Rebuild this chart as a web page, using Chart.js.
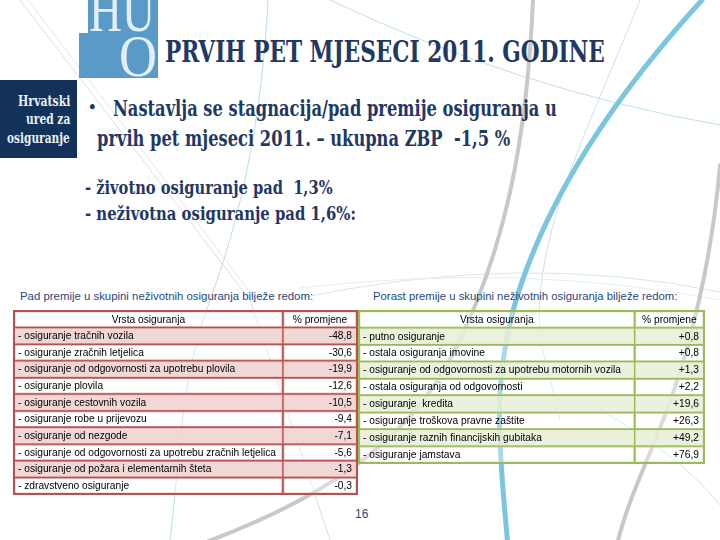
<!DOCTYPE html>
<html>
<head>
<meta charset="utf-8">
<script src="https://cdn.jsdelivr.net/npm/chart.js@4.4.1/dist/chart.umd.min.js"></script>
<style>
  body { margin: 0; }
  #slajd { position: relative; width: 720px; height: 540px; overflow: hidden; background: #fff; }
  #pozadina { position: absolute; left: 0; top: 0; }
  .txt { position: absolute; white-space: nowrap; line-height: 1; transform-origin: 0 50%; }
  .naslov { font-family: "DejaVu Serif Condensed", "DejaVu Serif", serif; font-weight: bold; color: #1f3864; }
  .opis { font-family: "Liberation Sans", Arial, sans-serif; color: #1f497d; }
  #ured { position: absolute; left: 0; top: 80px; width: 77px; height: 78px; background: #12325a; }
  .ured { font-family: "DejaVu Serif Condensed", "DejaVu Serif", serif; font-weight: bold; color: #e9eef5; font-size: 14px; transform-origin: 100% 50%; }
  canvas { position: absolute; }
</style>
</head>
<body>
<div id="slajd">
  <svg id="pozadina" width="720" height="540" viewBox="0 0 720 540">
    <g fill="none" stroke-linecap="round">
      <path d="M20,0 L250,300 L330,540" stroke="#d6d6d6" stroke-width="0.8"/>
      <path d="M28,0 L256,300" stroke="#e0e0e0" stroke-width="0.8"/>
      <path d="M268,0 C262,120 240,220 210,300 S180,460 170,540" stroke="#a9d6e6" stroke-width="0.8"/>
      <path d="M330,0 Q520,90 720,125" stroke="#b9dcea" stroke-width="0.9"/>
      <path d="M640,0 C600,100 560,180 545,260 S548,360 560,420" stroke="#b9dcea" stroke-width="0.8"/>
      <path d="M290,300 Q520,250 720,292" stroke="#d4e8f0" stroke-width="1"/>
      <path d="M300,288 Q520,262 720,300" stroke="#e2eef3" stroke-width="1"/>
      <path d="M600,410 Q680,455 720,505" stroke="#b9dcea" stroke-width="0.8"/>
      <path d="M533,0 C527,140 505,250 455,350 S310,505 190,548" stroke="#c8c8c8" stroke-width="4"/>
      <path d="M720,165 C712,260 690,350 665,415 S628,500 616,548" stroke="#c8c8c8" stroke-width="4"/>
      <path d="M702,0 C620,90 560,180 527,268 C505,325 497,385 500,440 C502,490 506,520 508,548" stroke="#7cc5de" stroke-width="5"/>
    </g>
    <rect x="88" y="0" width="70" height="34" fill="#5a9ac6"/>
    <rect x="79" y="33" width="79" height="45" fill="#5a9ac6"/>
    <text x="89" y="31" font-family="Liberation Serif" font-size="62" fill="#e3eef6" textLength="66" lengthAdjust="spacingAndGlyphs">HU</text>
    <text x="119" y="76" font-family="Liberation Serif" font-size="60" fill="#e3eef6" textLength="38" lengthAdjust="spacingAndGlyphs">O</text>
  </svg>

  <div id="ured"></div>
  <div class="txt ured" style="top:94px; right:650px;" data-w="52">Hrvatski</div>
  <div class="txt ured" style="top:112px; right:650px;" data-w="44">ured za</div>
  <div class="txt ured" style="top:131px; right:650px;" data-w="63">osiguranje</div>

  <div class="txt naslov" style="left:165px; top:38px; font-size:29px;" data-w="440">PRVIH PET MJESECI 2011. GODINE</div>
  <div class="txt naslov" style="left:88px; top:100px; font-size:15px;">•</div>
  <div class="txt naslov" style="left:113px; top:97px; font-size:22px;" data-w="444">Nastavlja se stagnacija/pad premije osiguranja u</div>
  <div class="txt naslov" style="left:97px; top:127px; font-size:22px;" data-w="413">prvih pet mjeseci 2011. – ukupna ZBP&nbsp; -1,5 %</div>
  <div class="txt naslov" style="left:85px; top:178px; font-size:19px;" data-w="248">- životno osiguranje pad&nbsp; 1,3%</div>
  <div class="txt naslov" style="left:85px; top:204px; font-size:19px;" data-w="271">- neživotna osiguranje pad 1,6%:</div>

  <div class="txt opis" style="left:20px; top:291px; font-size:11px;" data-w="293">Pad premije u skupini neživotnih osiguranja bilježe redom:</div>
  <div class="txt opis" style="left:373px; top:291px; font-size:11px;" data-w="304">Porast premije u skupini neživotnih osiguranja bilježe redom:</div>
  <div class="txt opis" style="left:355px; top:508px; font-size:12px;">16</div>

  <canvas id="tablicaPad" width="345" height="185" style="left:13px; top:310px;"></canvas>
  <canvas id="tablicaPorast" width="347" height="154" style="left:358px; top:310px;"></canvas>
</div>

<script>
// zaglavlje tablica
var zaglavlje = ['Vrsta osiguranja', '% promjene'];

// pad premije (neživotna osiguranja)
var padVrste = [
    '- osiguranje tračnih vozila',
    '- osiguranje zračnih letjelica',
    '- osiguranje od odgovornosti za upotrebu plovila',
    '- osiguranje plovila',
    '- osiguranje cestovnih vozila',
    '- osiguranje robe u prijevozu',
    '- osiguranje od nezgode',
    '- osiguranje od odgovornosti za upotrebu zračnih letjelica',
    '- osiguranje od požara i elementarnih šteta',
    '- zdravstveno osiguranje'
];
var padPromjene = [-48.8, -30.6, -19.9, -12.6, -10.5, -9.4, -7.1, -5.6, -1.3, -0.3];

// porast premije (neživotna osiguranja)
var porastVrste = [
    '- putno osiguranje',
    '- ostala osiguranja imovine',
    '- osiguranje od odgovornosti za upotrebu motornih vozila',
    '- ostala osiguranja od odgovornosti',
    '- osiguranje  kredita',
    '- osiguranje troškova pravne zaštite',
    '- osiguranje raznih financijskih gubitaka',
    '- osiguranje jamstava'
];
var porastPromjene = [0.8, 0.8, 1.3, 2.2, 19.6, 26.3, 49.2, 76.9];

function formatPromjena(v) {
    return (v > 0 ? '+' : '') + v.toFixed(1).replace('.', ',');
}

// crta tekst u ćelije i vanjski rub tablice
var tekstTablice = {
    id: 'tekstTablice',
    afterDatasetsDraw(chart, args, opts) {
        var ctx = chart.ctx, x = chart.scales.x, y = chart.scales.y;
        var x0 = x.getPixelForValue(0), xs = x.getPixelForValue(opts.podjela), x1 = x.getPixelForValue(100);
        var lijevo = chart.data.labels;
        ctx.save();
        ctx.font = opts.font;
        ctx.fillStyle = '#000';
        ctx.textBaseline = 'middle';
        var najvise = 0;
        lijevo.forEach(function (t) { najvise = Math.max(najvise, ctx.measureText(t).width); });
        var s = opts.najduzi / najvise;
        lijevo.forEach(function (t, i) {
            var yy = y.getPixelForValue(i) + 0.5;
            var d = opts.desno[i];
            var wl = ctx.measureText(t).width * s, wd = ctx.measureText(d).width * s;
            var lx, dx;
            if (i === 0) {
                lx = (x0 + xs - wl) / 2;
                dx = (xs + x1 - wd) / 2;
            } else {
                lx = x0 + 4;
                dx = x1 - 5 - wd;
            }
            ctx.save(); ctx.translate(lx, yy); ctx.scale(s, 1); ctx.textAlign = 'left'; ctx.fillText(t, 0, 0); ctx.restore();
            ctx.save(); ctx.translate(dx, yy); ctx.scale(s, 1); ctx.textAlign = 'left'; ctx.fillText(d, 0, 0); ctx.restore();
        });
        ctx.strokeStyle = opts.rub;
        ctx.lineWidth = 2;
        ctx.strokeRect(x0, chart.chartArea.top, x1 - x0, chart.chartArea.bottom - chart.chartArea.top);
        ctx.restore();
    }
};

function napraviTablicu(id, vrste, promjene, podjela, boja, rub) {
    var redovi = [zaglavlje[0]].concat(vrste);
    var desno = [zaglavlje[1]].concat(promjene.map(formatPromjena));
    var ispune = redovi.map(function (r, i) {
        return i > 0 && i % 2 === 1 ? boja : 'rgba(255,255,255,0.35)';
    });
    var zajedno = {
        backgroundColor: ispune,
        borderColor: rub,
        borderWidth: 1,
        borderSkipped: false,
        grouped: false,
        barPercentage: 1,
        categoryPercentage: 1
    };
    new Chart(document.getElementById(id), {
        type: 'bar',
        data: {
            labels: redovi,
            datasets: [
                Object.assign({ data: redovi.map(function () { return [0, podjela]; }) }, zajedno),
                Object.assign({ data: redovi.map(function () { return [podjela, 100]; }) }, zajedno)
            ]
        },
        options: {
            indexAxis: 'y',
            responsive: false,
            animation: false,
            events: [],
            layout: { padding: 1 },
            scales: {
                x: { type: 'linear', min: 0, max: 100, display: false },
                y: { display: false }
            },
            plugins: {
                legend: { display: false },
                tooltip: { enabled: false },
                tekstTablice: { podjela: podjela, desno: desno, rub: rub, font: '10px "Liberation Sans", Arial, sans-serif', najduzi: najduziTekst }
            }
        },
        plugins: [tekstTablice]
    });
}

var najduziTekst = 258;
napraviTablicu('tablicaPad', padVrste, padPromjene, 78.4, 'rgba(239,211,210,0.88)', '#b8524f');
napraviTablicu('tablicaPorast', porastVrste, porastPromjene, 79.9, 'rgba(232,239,216,0.88)', '#9bbb59');

// sužavanje teksta na širinu iz predloška
function prilagodi() {
    document.querySelectorAll('[data-w]').forEach(function (el) {
        el.style.transform = 'scaleX(' + (+el.dataset.w / el.offsetWidth) + ')';
    });
}
prilagodi();
if (document.fonts) document.fonts.ready.then(prilagodi);
</script>
</body>
</html>
